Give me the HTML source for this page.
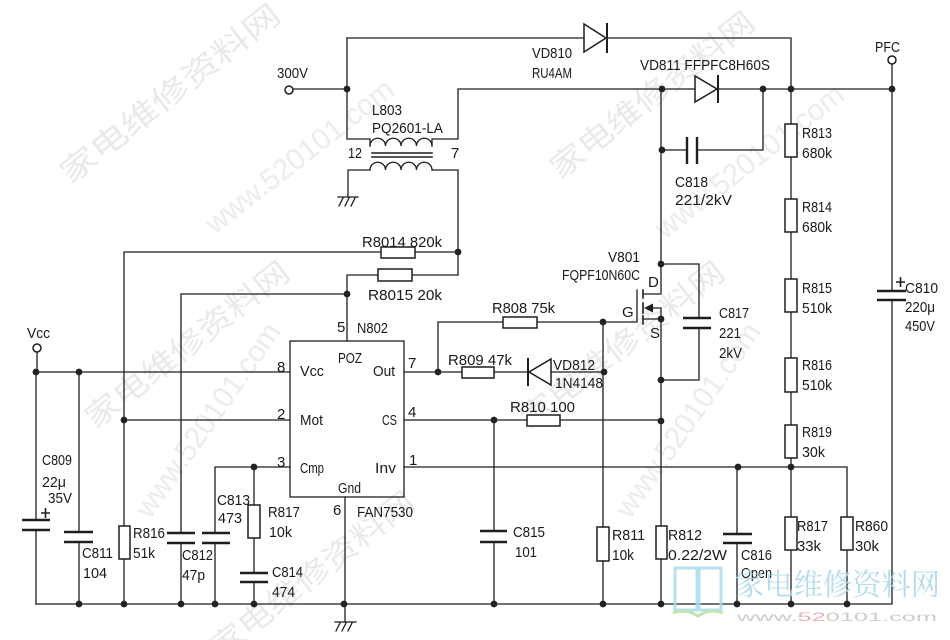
<!DOCTYPE html>
<html><head><meta charset="utf-8"><style>
html,body{margin:0;padding:0;background:#fff;}
svg{display:block;}
text{font-family:"Liberation Sans","Noto Sans CJK SC",sans-serif;font-size:15px;fill:#1a1a1a;}
.wm{font-family:"Noto Sans CJK SC","WenQuanYi Zen Hei",sans-serif;font-size:30px;fill:#e9e9e9;}
.wm2{font-family:"Liberation Sans",sans-serif;font-size:30px;fill:#ececec;}
</style></head><body>
<svg width="950" height="640" viewBox="0 0 950 640" xmlns="http://www.w3.org/2000/svg">
<rect width="950" height="640" fill="#fff"/>
<!-- watermarks -->
<g>
<text class="wm" transform="translate(70,185) rotate(-38)" textLength="270" lengthAdjust="spacingAndGlyphs">家电维修资料网</text>
<text class="wm2" transform="translate(215,235) rotate(-38)" textLength="230" lengthAdjust="spacingAndGlyphs">www.520101.com</text>
<text class="wm" transform="translate(560,180) rotate(-38)" textLength="250" lengthAdjust="spacingAndGlyphs">家电维修资料网</text>
<text class="wm2" transform="translate(665,240) rotate(-38)" textLength="230" lengthAdjust="spacingAndGlyphs">www.520101.com</text>
<text class="wm" transform="translate(95,430) rotate(-38)" textLength="250" lengthAdjust="spacingAndGlyphs">家电维修资料网</text>
<text class="wm2" transform="translate(150,520) rotate(-55)" textLength="230" lengthAdjust="spacingAndGlyphs">www.520101.com</text>
<text class="wm" transform="translate(530,430) rotate(-38)" textLength="250" lengthAdjust="spacingAndGlyphs">家电维修资料网</text>
<text class="wm2" transform="translate(630,520) rotate(-55)" textLength="230" lengthAdjust="spacingAndGlyphs">www.520101.com</text>
<text class="wm" transform="translate(220,660) rotate(-38)" textLength="250" lengthAdjust="spacingAndGlyphs">家电维修资料网</text>
</g>

<g stroke="#1e1e1e" stroke-width="1.3" fill="none" stroke-linecap="square">
<path d="M293,89 H347"/>
<path d="M347,38 V139 H370 V146"/>
<path d="M347,38 H584"/>
<path d="M607,38 H791 V89"/>
<path d="M432,146 V139 H458 V89 H695"/>
<path d="M718,89 H892"/>
<path d="M370,146 a7.75,7.75 0 0 1 15.5,0 a7.75,7.75 0 0 1 15.5,0 a7.75,7.75 0 0 1 15.5,0 a7.75,7.75 0 0 1 15.5,0"/>
<path d="M370,170 a7.75,7.75 0 0 1 15.5,0 a7.75,7.75 0 0 1 15.5,0 a7.75,7.75 0 0 1 15.5,0 a7.75,7.75 0 0 1 15.5,0"/>
<path d="M372,153 H432 M372,157 H432" stroke-width="1.6"/>
<path d="M348,197 V170 H370"/>
<path d="M432,170 H458 V275"/>
<path d="M124,604 V252 H381"/>
<path d="M415,252 H458"/>
<path d="M458,275 H412"/>
<path d="M378,275 H347 V341"/>
<path d="M181,533 V294 H347"/>
<path d="M181,543 V604"/>
<path d="M37,352 V372"/>
<path d="M36,372 H290"/>
<path d="M36,372 V520 M36,530 V604"/>
<path d="M79,372 V532 M79,542 V604"/>
<path d="M124,420 H290"/>
<path d="M215,533 V467 H290"/>
<path d="M215,543 V604"/>
<path d="M254,467 V573 M254,582 V604"/>
<path d="M36,604 H892 V300"/>
<path d="M892,291 V64"/>
<path d="M345,497 V622"/>
<path d="M404,372 H528"/>
<path d="M551,372 H604"/>
<path d="M438,372 V322 H637 V290"/>
<path d="M603,322 V604"/>
<path d="M661,89 V294 H643"/>
<path d="M643,319 H661 V604"/>
<path d="M652,308 H661 V319"/>
<path d="M643,290 V298 M643,303 V313 M643,316 V324" stroke-width="1.6"/>
<path d="M661,264 H699 V318"/>
<path d="M699,328 V380 H661"/>
<path d="M404,420 H661"/>
<path d="M494,420 V531 M494,542 V604"/>
<path d="M404,467 H847 V604"/>
<path d="M737,467 V534 M737,543 V604"/>
<path d="M791,89 V604"/>
<path d="M662,150 H687"/>
<path d="M697,150 H763 V89"/>
<rect x="290" y="341" width="114" height="156"/>
<path d="M338,197 H358 M343,198 L339,206 M349,198 L345,206 M355,198 L351,206"/>
<path d="M335,622 H356 M340,623 L336,631 M346,623 L342,631 M352,623 L348,631"/>
</g>

<g stroke="#1e1e1e" stroke-width="2.4" fill="none">
<path d="M22,520 H50 M22,530 H50"/>
<path d="M64,532 H93 M64,542 H93"/>
<path d="M167,533 H195 M167,543 H195"/>
<path d="M202,533 H230 M202,543 H230"/>
<path d="M240,573 H268 M240,582 H268"/>
<path d="M480,531 H507 M480,542 H507"/>
<path d="M723,534 H752 M723,543 H752"/>
<path d="M683,318 H711 M683,328 H711"/>
<path d="M687,137 V164 M697,137 V164"/>
<path d="M877,291 H906 M877,300 H906"/>
</g>
<g stroke="#1e1e1e" stroke-width="1.6">
<path d="M41,513 H50 M45.5,508 V518"/>
<path d="M896,282 H905 M900.5,277 V287"/>
</g>

<g stroke="#1e1e1e" stroke-width="1.5" fill="#fff">
<polygon points="584,24 584,52 606,38"/>
<polygon points="695,76 695,102 717,89"/>
<polygon points="551,359 551,385 529,372"/>
</g>
<g stroke="#1e1e1e" stroke-width="2">
<path d="M607,23 V53 M718,75 V103 M528,358 V386"/>
</g>
<polygon points="644,308 653,303.5 653,312.5" fill="#1e1e1e"/>

<g stroke="#1e1e1e" stroke-width="1.5" fill="#fff">
<rect x="381" y="247" width="34" height="11"/>
<rect x="378" y="269" width="34" height="12"/>
<rect x="503" y="317" width="34" height="11"/>
<rect x="462" y="367" width="32" height="11"/>
<rect x="527" y="415" width="33" height="11"/>
<rect x="119" y="526" width="11" height="33"/>
<rect x="248" y="505" width="12" height="33"/>
<rect x="597" y="527" width="12" height="34"/>
<rect x="656" y="526" width="11" height="33"/>
<rect x="785" y="124" width="12" height="33"/>
<rect x="785" y="199" width="12" height="33"/>
<rect x="785" y="279" width="12" height="33"/>
<rect x="785" y="358" width="12" height="34"/>
<rect x="785" y="425" width="12" height="33"/>
<rect x="785" y="517" width="12" height="33"/>
<rect x="841" y="517" width="12" height="33"/>
</g>

<g stroke="#1e1e1e" stroke-width="1.5" fill="#fff">
<circle cx="289" cy="90" r="4"/>
<circle cx="37" cy="348" r="4"/>
<circle cx="892" cy="60" r="4"/>
</g>

<g fill="#222">
<circle cx="347" cy="89" r="3.4"/><circle cx="662" cy="89" r="3.4"/><circle cx="763" cy="89" r="3.4"/>
<circle cx="791" cy="89" r="3.4"/><circle cx="892" cy="89" r="3.4"/><circle cx="662" cy="150" r="3.4"/>
<circle cx="458" cy="252" r="3.4"/><circle cx="347" cy="294" r="3.4"/><circle cx="36" cy="372" r="3.4"/>
<circle cx="79" cy="372" r="3.4"/><circle cx="124" cy="420" r="3.4"/><circle cx="254" cy="467" r="3.4"/>
<circle cx="438" cy="372" r="3.4"/><circle cx="604" cy="372" r="3.4"/><circle cx="603" cy="322" r="3.4"/>
<circle cx="661" cy="264" r="3.4"/><circle cx="661" cy="319" r="3.4"/><circle cx="661" cy="380" r="3.4"/>
<circle cx="661" cy="421" r="3.4"/><circle cx="494" cy="420" r="3.4"/><circle cx="738" cy="467" r="3.4"/>
<circle cx="791" cy="467" r="3.4"/>
<circle cx="79" cy="604" r="3.4"/><circle cx="124" cy="604" r="3.4"/><circle cx="181" cy="604" r="3.4"/>
<circle cx="215" cy="604" r="3.4"/><circle cx="254" cy="604" r="3.4"/><circle cx="344" cy="604" r="3.4"/>
<circle cx="494" cy="604" r="3.4"/><circle cx="603" cy="604" r="3.4"/><circle cx="661" cy="604" r="3.4"/>
<circle cx="737" cy="604" r="3.4"/><circle cx="791" cy="604" r="3.4"/><circle cx="847" cy="604" r="3.4"/>
</g>

<g>
<text x="277" y="78" textLength="31" lengthAdjust="spacingAndGlyphs">300V</text>
<text x="532" y="58" textLength="40" lengthAdjust="spacingAndGlyphs">VD810</text>
<text x="532" y="78" textLength="40" lengthAdjust="spacingAndGlyphs">RU4AM</text>
<text x="372" y="115" textLength="30" lengthAdjust="spacingAndGlyphs">L803</text>
<text x="372" y="133" textLength="71" lengthAdjust="spacingAndGlyphs">PQ2601-LA</text>
<text x="348" y="158" textLength="14" lengthAdjust="spacingAndGlyphs">12</text>
<text x="451" y="158">7</text>
<text x="640" y="70" textLength="130" lengthAdjust="spacingAndGlyphs">VD811 FFPFC8H60S</text>
<text x="875" y="52" textLength="25" lengthAdjust="spacingAndGlyphs">PFC</text>
<text x="675" y="187" textLength="33" lengthAdjust="spacingAndGlyphs">C818</text>
<text x="675" y="205" textLength="57" lengthAdjust="spacingAndGlyphs">221/2kV</text>
<text x="802" y="138" textLength="30" lengthAdjust="spacingAndGlyphs">R813</text>
<text x="802" y="158" textLength="30" lengthAdjust="spacingAndGlyphs">680k</text>
<text x="802" y="212" textLength="30" lengthAdjust="spacingAndGlyphs">R814</text>
<text x="802" y="232" textLength="30" lengthAdjust="spacingAndGlyphs">680k</text>
<text x="802" y="293" textLength="30" lengthAdjust="spacingAndGlyphs">R815</text>
<text x="802" y="313" textLength="30" lengthAdjust="spacingAndGlyphs">510k</text>
<text x="802" y="370" textLength="30" lengthAdjust="spacingAndGlyphs">R816</text>
<text x="802" y="390" textLength="30" lengthAdjust="spacingAndGlyphs">510k</text>
<text x="802" y="437" textLength="30" lengthAdjust="spacingAndGlyphs">R819</text>
<text x="802" y="457" textLength="23" lengthAdjust="spacingAndGlyphs">30k</text>
<text x="905" y="293" textLength="33" lengthAdjust="spacingAndGlyphs">C810</text>
<text x="905" y="312" textLength="30" lengthAdjust="spacingAndGlyphs">220μ</text>
<text x="905" y="331" textLength="30" lengthAdjust="spacingAndGlyphs">450V</text>
<text x="608" y="262" textLength="32" lengthAdjust="spacingAndGlyphs">V801</text>
<text x="562" y="280" textLength="78" lengthAdjust="spacingAndGlyphs">FQPF10N60C</text>
<text x="648" y="287">D</text>
<text x="622" y="317">G</text>
<text x="650" y="338">S</text>
<text x="719" y="318" textLength="30" lengthAdjust="spacingAndGlyphs">C817</text>
<text x="719" y="338" textLength="22" lengthAdjust="spacingAndGlyphs">221</text>
<text x="719" y="358" textLength="23" lengthAdjust="spacingAndGlyphs">2kV</text>
<text x="362" y="247" textLength="80" lengthAdjust="spacingAndGlyphs">R8014 820k</text>
<text x="368" y="300" textLength="74" lengthAdjust="spacingAndGlyphs">R8015 20k</text>
<text x="337" y="332">5</text>
<text x="357" y="333" textLength="31" lengthAdjust="spacingAndGlyphs">N802</text>
<text x="492" y="313" textLength="63" lengthAdjust="spacingAndGlyphs">R808 75k</text>
<text x="448" y="365" textLength="64" lengthAdjust="spacingAndGlyphs">R809 47k</text>
<text x="553" y="370" textLength="42" lengthAdjust="spacingAndGlyphs">VD812</text>
<text x="555" y="388" textLength="48" lengthAdjust="spacingAndGlyphs">1N4148</text>
<text x="510" y="412" textLength="65" lengthAdjust="spacingAndGlyphs">R810 100</text>
<text x="338" y="363" textLength="24" lengthAdjust="spacingAndGlyphs">POZ</text>
<text x="300" y="376" textLength="24" lengthAdjust="spacingAndGlyphs">Vcc</text>
<text x="373" y="376" textLength="22" lengthAdjust="spacingAndGlyphs">Out</text>
<text x="300" y="425" textLength="23" lengthAdjust="spacingAndGlyphs">Mot</text>
<text x="382" y="425" textLength="15" lengthAdjust="spacingAndGlyphs">CS</text>
<text x="300" y="473" textLength="24" lengthAdjust="spacingAndGlyphs">Cmp</text>
<text x="375" y="473" textLength="21" lengthAdjust="spacingAndGlyphs">Inv</text>
<text x="338" y="493" textLength="23" lengthAdjust="spacingAndGlyphs">Gnd</text>
<text x="277" y="372">8</text>
<text x="277" y="419">2</text>
<text x="277" y="467">3</text>
<text x="408" y="368">7</text>
<text x="408" y="417">4</text>
<text x="409" y="465">1</text>
<text x="357" y="517" textLength="56" lengthAdjust="spacingAndGlyphs">FAN7530</text>
<text x="333" y="515">6</text>
<text x="27" y="338" textLength="23" lengthAdjust="spacingAndGlyphs">Vcc</text>
<text x="42" y="465" textLength="30" lengthAdjust="spacingAndGlyphs">C809</text>
<text x="42" y="487" textLength="24" lengthAdjust="spacingAndGlyphs">22μ</text>
<text x="48" y="503" textLength="24" lengthAdjust="spacingAndGlyphs">35V</text>
<text x="82" y="558" textLength="31" lengthAdjust="spacingAndGlyphs">C811</text>
<text x="83" y="578" textLength="24" lengthAdjust="spacingAndGlyphs">104</text>
<text x="133" y="538" textLength="32" lengthAdjust="spacingAndGlyphs">R816</text>
<text x="133" y="558" textLength="22" lengthAdjust="spacingAndGlyphs">51k</text>
<text x="182" y="560" textLength="31" lengthAdjust="spacingAndGlyphs">C812</text>
<text x="182" y="580" textLength="23" lengthAdjust="spacingAndGlyphs">47p</text>
<text x="217" y="505" textLength="33" lengthAdjust="spacingAndGlyphs">C813</text>
<text x="218" y="523" textLength="24" lengthAdjust="spacingAndGlyphs">473</text>
<text x="268" y="517" textLength="32" lengthAdjust="spacingAndGlyphs">R817</text>
<text x="269" y="537" textLength="23" lengthAdjust="spacingAndGlyphs">10k</text>
<text x="272" y="577" textLength="31" lengthAdjust="spacingAndGlyphs">C814</text>
<text x="272" y="597" textLength="23" lengthAdjust="spacingAndGlyphs">474</text>
<text x="513" y="537" textLength="32" lengthAdjust="spacingAndGlyphs">C815</text>
<text x="515" y="557" textLength="22" lengthAdjust="spacingAndGlyphs">101</text>
<text x="612" y="540" textLength="33" lengthAdjust="spacingAndGlyphs">R811</text>
<text x="612" y="560" textLength="22" lengthAdjust="spacingAndGlyphs">10k</text>
<text x="668" y="540" textLength="34" lengthAdjust="spacingAndGlyphs">R812</text>
<text x="668" y="560" textLength="59" lengthAdjust="spacingAndGlyphs">0.22/2W</text>
<text x="741" y="560" textLength="31" lengthAdjust="spacingAndGlyphs">C816</text>
<text x="741" y="578" textLength="31" lengthAdjust="spacingAndGlyphs">Open</text>
<text x="797" y="531" textLength="31" lengthAdjust="spacingAndGlyphs">R817</text>
<text x="797" y="551" textLength="24" lengthAdjust="spacingAndGlyphs">33k</text>
<text x="855" y="531" textLength="33" lengthAdjust="spacingAndGlyphs">R860</text>
<text x="855" y="551" textLength="24" lengthAdjust="spacingAndGlyphs">30k</text>
</g>

<g opacity="0.85">
<path d="M675,568 H697 V610 H675 Z M699,568 H721 V610 H699 Z" fill="none" stroke="#a9dbee" stroke-width="3"/>
<path d="M673,613 Q686,608 698,616 Q710,608 723,613" fill="none" stroke="#b6e0a6" stroke-width="3"/>
<text x="735" y="595" textLength="205" lengthAdjust="spacingAndGlyphs" style="font-family:'Noto Serif CJK SC','Noto Sans CJK SC',sans-serif;font-size:30px;fill:#a9d6ea;">家电维修资料网</text>
<text x="737" y="621" textLength="200" lengthAdjust="spacingAndGlyphs" style="font-size:12px;fill:#c4c4c4;">www.<tspan fill="#e3a0a0">52</tspan>0101.com</text>
</g>
</svg>
</body></html>
